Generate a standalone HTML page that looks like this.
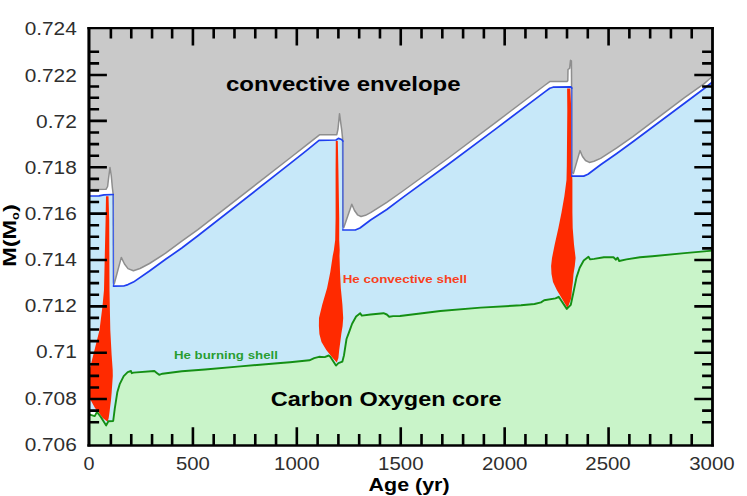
<!DOCTYPE html>
<html><head><meta charset="utf-8"><title>Kippenhahn diagram</title>
<style>html,body{margin:0;padding:0;background:#fff;}body{width:747px;height:496px;position:relative;overflow:hidden;font-family:"Liberation Sans",sans-serif;}</style>
</head><body>
<svg width="747" height="496" viewBox="0 0 747 496" style="position:absolute;left:0;top:0" font-family="Liberation Sans, sans-serif">
<rect x="0" y="0" width="747" height="496" fill="#fff"/>
<polygon fill="#c7e8f9" points="89.0,196.0 99.0,195.9 104.0,194.9 113.2,194.5 113.5,286.1 123.7,286.0 128.0,284.6 133.4,282.1 149.5,271.0 165.6,259.3 181.8,248.0 197.9,235.8 290.0,163.7 306.1,150.8 319.0,140.3 336.0,140.0 338.4,138.4 341.6,139.5 342.9,141.0 342.9,230.0 355.3,230.0 360.0,228.0 370.6,220.0 386.8,209.5 402.9,197.4 448.4,164.3 496.8,128.1 545.2,91.6 549.8,88.3 553.0,87.2 570.8,86.8 571.8,88.0 571.8,176.1 583.7,176.1 588.0,174.3 600.6,164.8 616.8,153.5 632.9,141.8 684.5,103.2 703.9,88.7 712.5,82.0 712.5,445.4 89.0,445.4"/>
<polygon fill="#fff" points="89.0,410.6 96.0,410.6 97.5,412.5 95.0,416.0 89.0,414.8"/>
<polygon fill="#c9f4c9" points="89.0,414.8 90.6,414.8 94.7,416.1 97.0,412.0 101.0,417.3 106.2,425.4 108.4,421.3 113.2,421.0 114.8,408.4 117.3,392.3 119.7,384.2 123.7,376.1 127.7,372.1 131.0,371.0 131.8,373.2 133.4,372.6 154.4,371.0 156.8,372.9 159.2,374.8 162.4,373.7 181.8,371.3 205.0,369.5 240.3,366.4 280.6,363.0 290.0,362.2 309.4,360.3 314.2,358.1 319.0,356.8 324.7,357.1 328.7,355.5 330.3,356.8 336.0,365.6 338.4,363.2 342.4,361.6 344.0,355.2 346.5,339.0 348.9,332.6 352.1,323.7 356.1,316.5 360.2,313.2 361.8,315.6 370.6,314.5 383.5,313.2 386.8,314.5 389.2,316.8 393.2,316.1 400.0,316.0 440.3,311.0 480.6,307.6 521.0,305.3 534.5,304.0 541.0,302.4 544.2,300.3 555.5,298.4 558.7,296.8 566.8,308.9 570.8,304.8 573.2,293.5 576.5,277.4 579.7,267.7 583.7,260.5 588.5,256.8 590.2,259.4 594.2,258.9 603.9,257.3 613.5,257.3 616.0,259.7 617.6,257.7 619.2,261.0 626.5,259.4 640.0,257.3 652.3,256.3 684.5,253.1 712.5,250.6 712.5,445.4 89.0,445.4"/>
<polygon fill="#c9c9c9" points="89.0,28.2 712.5,28.2 712.5,76.5 710.3,78.2 703.9,83.9 684.5,97.6 632.9,136.6 616.8,147.9 600.6,158.4 594.0,161.3 589.4,162.4 585.5,160.5 582.5,156.5 580.0,150.6 573.4,173.5 571.8,172.0 571.6,86.0 571.4,60.8 570.5,60.3 569.6,68.3 568.0,69.5 567.8,80.6 566.8,81.6 549.8,81.6 545.2,85.0 496.8,121.6 448.4,158.0 402.9,191.0 386.8,202.3 370.6,212.7 365.5,215.3 361.0,216.5 357.5,214.8 354.5,210.5 351.8,204.2 343.8,227.5 342.9,226.0 342.6,138.7 341.7,129.8 339.5,113.7 338.0,129.0 336.8,134.7 319.8,134.7 306.1,145.3 290.0,158.0 197.9,229.7 181.8,241.2 165.6,253.2 149.5,263.5 140.0,268.5 133.4,270.8 128.0,268.6 124.5,264.0 121.3,257.4 114.2,284.0 113.5,283.0 113.2,194.3 112.4,188.0 111.3,176.0 110.0,167.5 108.6,178.0 107.6,186.5 106.0,189.3 89.0,189.5"/>
<polyline fill="none" stroke="#8e8e8e" stroke-width="1.5" stroke-linejoin="round" points="89.0,189.5 106.0,189.3 107.6,186.5 108.6,178.0 110.0,167.5 111.3,176.0 112.4,188.0 113.2,194.3 113.5,283.0 114.2,284.0 121.3,257.4 124.5,264.0 128.0,268.6 133.4,270.8 140.0,268.5 149.5,263.5 165.6,253.2 181.8,241.2 197.9,229.7 290.0,158.0 306.1,145.3 319.8,134.7 336.8,134.7 338.0,129.0 339.5,113.7 341.7,129.8 342.6,138.7 342.9,226.0 343.8,227.5 351.8,204.2 354.5,210.5 357.5,214.8 361.0,216.5 365.5,215.3 370.6,212.7 386.8,202.3 402.9,191.0 448.4,158.0 496.8,121.6 545.2,85.0 549.8,81.6 566.8,81.6 567.8,80.6 568.0,69.5 569.6,68.3 570.5,60.3 571.4,60.8 571.6,86.0 571.8,172.0 573.4,173.5 580.0,150.6 582.5,156.5 585.5,160.5 589.4,162.4 594.0,161.3 600.6,158.4 616.8,147.9 632.9,136.6 684.5,97.6 703.9,83.9 710.3,78.2 712.5,76.5"/>
<polygon fill="#ff2a00" points="107.2,196.2 106.0,196.3 105.6,220.0 104.0,290.0 102.5,306.0 99.5,330.0 93.4,354.5 89.5,370.0 89.0,376.0 89.0,392.0 90.6,400.0 95.0,408.0 97.9,411.6 102.7,418.0 107.6,421.8 108.7,418.0 109.6,411.6 110.0,408.0 111.0,400.0 111.7,392.0 112.8,376.0 112.7,370.0 111.6,354.5 110.3,330.0 109.8,306.0 109.5,290.0 109.2,220.0 108.5,196.3"/>
<polygon fill="#ff2a00" points="336.8,140.8 335.8,140.9 335.6,170.0 335.6,218.0 335.2,240.0 333.9,250.0 332.7,256.0 330.3,272.0 327.1,288.0 322.3,304.5 319.0,318.0 318.9,326.0 319.4,334.0 321.5,342.0 326.3,350.0 332.7,358.0 336.8,362.6 338.4,358.0 339.2,350.0 340.3,342.0 341.3,334.0 342.6,326.0 343.2,318.0 342.4,304.5 340.8,288.0 340.0,272.0 339.5,256.0 339.7,250.0 339.2,240.0 339.2,218.0 338.4,170.0 337.8,140.9"/>
<polygon fill="#ff2a00" points="568.7,88.5 567.1,88.6 567.3,110.0 566.8,166.0 566.5,180.0 564.4,196.0 561.6,212.0 558.4,228.0 554.7,244.5 552.0,258.0 551.1,266.0 551.5,274.0 553.0,282.0 556.8,290.0 561.6,298.0 567.6,308.2 571.3,298.0 571.9,290.0 572.9,282.0 573.5,274.0 574.8,266.0 575.6,258.0 574.0,244.5 572.7,228.0 572.4,212.0 572.4,196.0 572.4,180.0 571.6,166.0 571.3,110.0 570.3,88.6"/>
<polyline fill="none" stroke="#3a5cf2" stroke-width="1.15" points="113.2,194.5 113.5,286.1"/>
<polyline fill="none" stroke="#3a5cf2" stroke-width="1.15" points="342.9,141.0 342.9,230.0"/>
<polyline fill="none" stroke="#3a5cf2" stroke-width="1.15" points="571.8,88.0 571.8,176.1"/>
<polyline fill="none" stroke="#1f3ff0" stroke-width="1.7" stroke-linejoin="round" stroke-linecap="round" points="89.0,196.0 99.0,195.9 104.0,194.9 113.2,194.5"/>
<polyline fill="none" stroke="#1f3ff0" stroke-width="1.7" stroke-linejoin="round" stroke-linecap="round" points="113.5,286.1 123.7,286.0 128.0,284.6 133.4,282.1 149.5,271.0 165.6,259.3 181.8,248.0 197.9,235.8 290.0,163.7 306.1,150.8 319.0,140.3 336.0,140.0 338.4,138.4 341.6,139.5 342.9,141.0"/>
<polyline fill="none" stroke="#1f3ff0" stroke-width="1.7" stroke-linejoin="round" stroke-linecap="round" points="342.9,230.0 355.3,230.0 360.0,228.0 370.6,220.0 386.8,209.5 402.9,197.4 448.4,164.3 496.8,128.1 545.2,91.6 549.8,88.3 553.0,87.2 570.8,86.8 571.8,88.0"/>
<polyline fill="none" stroke="#1f3ff0" stroke-width="1.7" stroke-linejoin="round" stroke-linecap="round" points="571.8,176.1 583.7,176.1 588.0,174.3 600.6,164.8 616.8,153.5 632.9,141.8 684.5,103.2 703.9,88.7 712.5,82.0"/>
<polyline fill="none" stroke="#148f14" stroke-width="1.9" stroke-linejoin="round" points="89.0,414.8 90.6,414.8 94.7,416.1 97.0,412.0 101.0,417.3 106.2,425.4 108.4,421.3 113.2,421.0 114.8,408.4 117.3,392.3 119.7,384.2 123.7,376.1 127.7,372.1 131.0,371.0 131.8,373.2 133.4,372.6 154.4,371.0 156.8,372.9 159.2,374.8 162.4,373.7 181.8,371.3 205.0,369.5 240.3,366.4 280.6,363.0 290.0,362.2 309.4,360.3 314.2,358.1 319.0,356.8 324.7,357.1 328.7,355.5 330.3,356.8 336.0,365.6 338.4,363.2 342.4,361.6 344.0,355.2 346.5,339.0 348.9,332.6 352.1,323.7 356.1,316.5 360.2,313.2 361.8,315.6 370.6,314.5 383.5,313.2 386.8,314.5 389.2,316.8 393.2,316.1 400.0,316.0 440.3,311.0 480.6,307.6 521.0,305.3 534.5,304.0 541.0,302.4 544.2,300.3 555.5,298.4 558.7,296.8 566.8,308.9 570.8,304.8 573.2,293.5 576.5,277.4 579.7,267.7 583.7,260.5 588.5,256.8 590.2,259.4 594.2,258.9 603.9,257.3 613.5,257.3 616.0,259.7 617.6,257.7 619.2,261.0 626.5,259.4 640.0,257.3 652.3,256.3 684.5,253.1 712.5,250.6"/>
<path d="M110.88,28.2v10.2M110.88,445.4v-11.3M131.27,28.2v10.2M131.27,445.4v-11.3M152.05,28.2v10.2M152.05,445.4v-11.3M172.13,28.2v10.2M172.13,445.4v-11.3M192.92,28.2v17.4M192.92,445.4v-18.2M213.70,28.2v10.2M213.70,445.4v-11.3M234.48,28.2v10.2M234.48,445.4v-11.3M255.27,28.2v10.2M255.27,445.4v-11.3M276.05,28.2v10.2M276.05,445.4v-11.3M296.83,28.2v17.4M296.83,445.4v-18.2M317.62,28.2v10.2M317.62,445.4v-11.3M338.40,28.2v10.2M338.40,445.4v-11.3M359.18,28.2v10.2M359.18,445.4v-11.3M379.97,28.2v10.2M379.97,445.4v-11.3M400.75,28.2v17.4M400.75,445.4v-18.2M421.53,28.2v10.2M421.53,445.4v-11.3M442.32,28.2v10.2M442.32,445.4v-11.3M463.10,28.2v10.2M463.10,445.4v-11.3M483.88,28.2v10.2M483.88,445.4v-11.3M504.67,28.2v17.4M504.67,445.4v-18.2M525.45,28.2v10.2M525.45,445.4v-11.3M546.23,28.2v10.2M546.23,445.4v-11.3M567.02,28.2v10.2M567.02,445.4v-11.3M587.80,28.2v10.2M587.80,445.4v-11.3M608.58,28.2v17.4M608.58,445.4v-18.2M629.37,28.2v10.2M629.37,445.4v-11.3M650.15,28.2v10.2M650.15,445.4v-11.3M670.93,28.2v10.2M670.93,445.4v-11.3M691.72,28.2v10.2M691.72,445.4v-11.3M89.0,51.78h10.1M712.5,51.78h-10.4M89.0,63.37h10.1M712.5,63.37h-10.4M89.0,74.96h17.9M712.5,74.96h-18.2M89.0,86.54h10.1M712.5,86.54h-10.4M89.0,97.73h10.1M712.5,97.73h-10.4M89.0,109.32h10.1M712.5,109.32h-10.4M89.0,120.91h17.9M712.5,120.91h-18.2M89.0,132.50h10.1M712.5,132.50h-10.4M89.0,144.09h10.1M712.5,144.09h-10.4M89.0,155.68h10.1M712.5,155.68h-10.4M89.0,167.27h17.9M712.5,167.27h-18.2M89.0,178.86h10.1M712.5,178.86h-10.4M89.0,190.44h10.1M712.5,190.44h-10.4M89.0,202.03h10.1M712.5,202.03h-10.4M89.0,213.62h17.9M712.5,213.62h-18.2M89.0,225.21h10.1M712.5,225.21h-10.4M89.0,236.80h10.1M712.5,236.80h-10.4M89.0,248.39h10.1M712.5,248.39h-10.4M89.0,259.98h17.9M712.5,259.98h-18.2M89.0,271.57h10.1M712.5,271.57h-10.4M89.0,283.16h10.1M712.5,283.16h-10.4M89.0,294.74h10.1M712.5,294.74h-10.4M89.0,306.33h17.9M712.5,306.33h-18.2M89.0,317.92h10.1M712.5,317.92h-10.4M89.0,329.51h10.1M712.5,329.51h-10.4M89.0,341.10h10.1M712.5,341.10h-10.4M89.0,352.69h17.9M712.5,352.69h-18.2M89.0,364.28h10.1M712.5,364.28h-10.4M89.0,375.87h10.1M712.5,375.87h-10.4M89.0,387.46h10.1M712.5,387.46h-10.4M89.0,399.04h17.9M712.5,399.04h-18.2M89.0,410.63h10.1M712.5,410.63h-10.4M89.0,422.22h10.1M712.5,422.22h-10.4" stroke="#000" stroke-width="2.6" fill="none"/>
<path d="M87.4,28.2H713.9" stroke="#000" stroke-width="2.3" fill="none"/>
<path d="M87.4,445.4H713.9" stroke="#000" stroke-width="2.5" fill="none"/>
<path d="M712.5,27.099999999999998V446.59999999999997" stroke="#000" stroke-width="2.8" fill="none"/>
<path d="M88.95,27.099999999999998V446.59999999999997" stroke="#000" stroke-width="3.1" fill="none"/>
<text x="76.8" y="34.5" text-anchor="end" font-size="17.5" fill="#2e2e2e" textLength="52.1" lengthAdjust="spacingAndGlyphs">0.724</text>
<text x="76.8" y="81.5" text-anchor="end" font-size="17.5" fill="#2e2e2e" textLength="52.1" lengthAdjust="spacingAndGlyphs">0.722</text>
<text x="76.8" y="128.1" text-anchor="end" font-size="17.5" fill="#2e2e2e" textLength="40.7" lengthAdjust="spacingAndGlyphs">0.72</text>
<text x="76.8" y="173.6" text-anchor="end" font-size="17.5" fill="#2e2e2e" textLength="52.1" lengthAdjust="spacingAndGlyphs">0.718</text>
<text x="76.8" y="220.0" text-anchor="end" font-size="17.5" fill="#2e2e2e" textLength="52.1" lengthAdjust="spacingAndGlyphs">0.716</text>
<text x="76.8" y="266.3" text-anchor="end" font-size="17.5" fill="#2e2e2e" textLength="52.1" lengthAdjust="spacingAndGlyphs">0.714</text>
<text x="76.8" y="311.9" text-anchor="end" font-size="17.5" fill="#2e2e2e" textLength="52.1" lengthAdjust="spacingAndGlyphs">0.712</text>
<text x="76.8" y="358.3" text-anchor="end" font-size="17.5" fill="#2e2e2e" textLength="40.7" lengthAdjust="spacingAndGlyphs">0.71</text>
<text x="76.8" y="404.7" text-anchor="end" font-size="17.5" fill="#2e2e2e" textLength="52.1" lengthAdjust="spacingAndGlyphs">0.708</text>
<text x="76.8" y="450.9" text-anchor="end" font-size="17.5" fill="#2e2e2e" textLength="52.1" lengthAdjust="spacingAndGlyphs">0.706</text>
<text x="89.0" y="469.9" text-anchor="middle" font-size="17.5" fill="#2e2e2e" textLength="11.0" lengthAdjust="spacingAndGlyphs">0</text>
<text x="192.9" y="469.9" text-anchor="middle" font-size="17.5" fill="#2e2e2e" textLength="33.9" lengthAdjust="spacingAndGlyphs">500</text>
<text x="296.8" y="469.9" text-anchor="middle" font-size="17.5" fill="#2e2e2e" textLength="45.4" lengthAdjust="spacingAndGlyphs">1000</text>
<text x="400.8" y="469.9" text-anchor="middle" font-size="17.5" fill="#2e2e2e" textLength="45.4" lengthAdjust="spacingAndGlyphs">1500</text>
<text x="504.7" y="469.9" text-anchor="middle" font-size="17.5" fill="#2e2e2e" textLength="45.4" lengthAdjust="spacingAndGlyphs">2000</text>
<text x="608.0" y="469.9" text-anchor="middle" font-size="17.5" fill="#2e2e2e" textLength="45.4" lengthAdjust="spacingAndGlyphs">2500</text>
<text x="711.9" y="469.9" text-anchor="middle" font-size="17.5" fill="#2e2e2e" textLength="45.4" lengthAdjust="spacingAndGlyphs">3000</text>
<text x="226.0" y="91.3" font-size="20.6" font-weight="bold" fill="#000" textLength="234.6" lengthAdjust="spacingAndGlyphs">convective envelope</text>
<text x="270.8" y="405.8" font-size="20.4" font-weight="bold" fill="#000" textLength="230.8" lengthAdjust="spacingAndGlyphs">Carbon Oxygen core</text>
<text x="342.7" y="283.1" font-size="11.2" font-weight="bold" fill="#ff2a00" fill-opacity="0.9" textLength="124.3" lengthAdjust="spacingAndGlyphs">He convective shell</text>
<text x="173.9" y="358.7" font-size="11.3" font-weight="bold" fill="#17961a" fill-opacity="0.92" textLength="104" lengthAdjust="spacingAndGlyphs">He burning shell</text>
<text x="368.6" y="491.3" font-size="18.3" font-weight="bold" fill="#000" textLength="81" lengthAdjust="spacingAndGlyphs">Age (yr)</text>
<g transform="translate(16.1,266.8) rotate(-90)"><text x="0" y="0" font-size="18.3" font-weight="bold" fill="#000" textLength="62.5" lengthAdjust="spacingAndGlyphs">M(M<tspan font-size="10" dy="3">o</tspan><tspan dy="-3">)</tspan></text></g>
</svg>
</body></html>
